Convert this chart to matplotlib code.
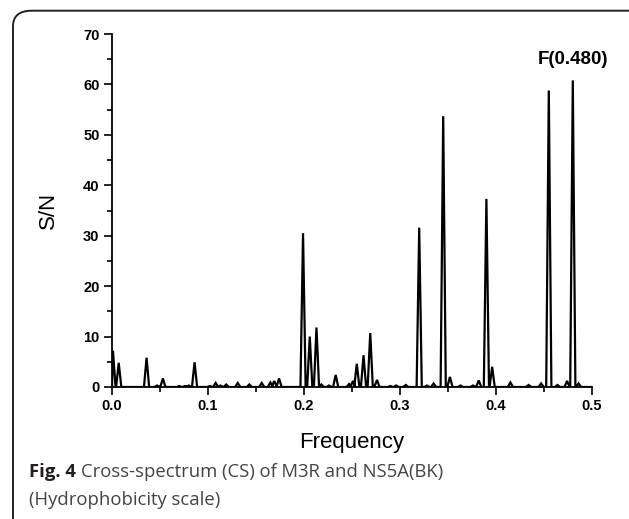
import numpy as np
import matplotlib.pyplot as plt
from matplotlib.patches import FancyBboxPatch
from matplotlib.ticker import MultipleLocator

# peaks (frequency, S/N)
peak_freq = [0.001, 0.007, 0.036, 0.047, 0.053, 0.070, 0.076, 0.080, 0.086,
             0.102, 0.108, 0.113, 0.119, 0.131, 0.143, 0.156, 0.165, 0.169, 0.174,
             0.199, 0.206, 0.213, 0.218, 0.226, 0.233, 0.247, 0.251, 0.255, 0.262,
             0.269, 0.276, 0.290, 0.296, 0.306, 0.320, 0.328, 0.335, 0.345, 0.352,
             0.363, 0.376, 0.382, 0.390, 0.396, 0.415, 0.434, 0.447, 0.455, 0.464,
             0.474, 0.480, 0.486]
peak_sn = [7.2, 4.8, 5.8, 0.3, 1.7, 0.2, 0.2, 0.3, 4.9,
           0.2, 0.8, 0.3, 0.5, 0.8, 0.5, 0.8, 0.9, 1.2, 1.7,
           30.5, 10.0, 11.8, 0.5, 0.3, 2.4, 0.6, 1.2, 4.6, 6.3,
           10.7, 1.4, 0.2, 0.3, 0.4, 31.6, 0.3, 0.7, 53.7, 2.0,
           0.3, 0.3, 1.3, 37.3, 4.0, 0.9, 0.4, 0.7, 58.8, 0.4,
           1.2, 60.8, 0.7]
half_width = 0.0027

xticks = [0.0, 0.1, 0.2, 0.3, 0.4, 0.5]
yticks = [0, 10, 20, 30, 40, 50, 60, 70]

# spectrum line: baseline with a narrow spike at every peak
xs, ys = [0.0], [0.0]
for f, h in zip(peak_freq, peak_sn):
    xs += [max(f - half_width, 0.0), f, f + half_width]
    ys += [0.0, h, 0.0]
xs.append(0.5)
ys.append(0.0)

fig = plt.figure(figsize=(6.29, 5.19), dpi=100)
ax = fig.add_axes([112 / 629, 1 - 387 / 519, 480 / 629, 353 / 519])

ax.plot(xs, ys, color='black', lw=1.6, solid_joinstyle='miter')
ax.set_xlim(0, 0.5)
ax.set_ylim(0, 70)
ax.set_xticks(xticks)
ax.set_yticks(yticks)
ax.xaxis.set_minor_locator(MultipleLocator(0.05))
ax.yaxis.set_minor_locator(MultipleLocator(5))
for side in ['top', 'right']:
    ax.spines[side].set_visible(False)
for side in ['left', 'bottom']:
    ax.spines[side].set_linewidth(1.3)
ax.tick_params(which='major', direction='out', length=6, width=1.2, pad=3)
ax.tick_params(which='minor', direction='out', length=3.5, width=1.2)
ax.xaxis.set_major_formatter(plt.FuncFormatter(lambda v, p: f'{v:.1f}'))
for lab in ax.get_xticklabels() + ax.get_yticklabels():
    lab.set_fontfamily('Liberation Sans')
    lab.set_fontweight('bold')
    lab.set_fontsize(10.5)

ax.set_xlabel('Frequency', fontsize=16, family='Liberation Sans', labelpad=13)
ax.set_ylabel('S/N', fontsize=16, family='Liberation Sans', labelpad=17)
ax.text(0.480, 64.9, 'F(0.480)', ha='center', va='center', fontsize=13.5,
        fontweight='bold', family='Liberation Sans')

# rounded frame, cut by the image edges
frame = FancyBboxPatch((13 / 629, -0.2), 1.2, 1.2 - 10.7 / 519,
                       boxstyle='round,pad=0,rounding_size=0.03',
                       transform=fig.transFigure, fill=False,
                       edgecolor='#222222', lw=1.4, clip_on=False)
fig.patches.append(frame)

# caption
renderer = fig.canvas.get_renderer()
t1 = fig.text(29 / 629, 1 - 472 / 519, 'Fig. 4', fontsize=13.3, fontweight='bold',
              family='Open Sans', color='#231f20', va='center')
bb = t1.get_window_extent(renderer)
fig.text(bb.x1 / 629 + 5 / 629, 1 - 472 / 519, 'Cross-spectrum (CS) of M3R and NS5A(BK)',
         fontsize=13.3, family='Open Sans', color='#444444', va='center')
fig.text(29 / 629, 1 - 500 / 519, '(Hydrophobicity scale)', fontsize=13.3,
         family='Open Sans', color='#444444', va='center')

fig.savefig('out.png', dpi=100)
